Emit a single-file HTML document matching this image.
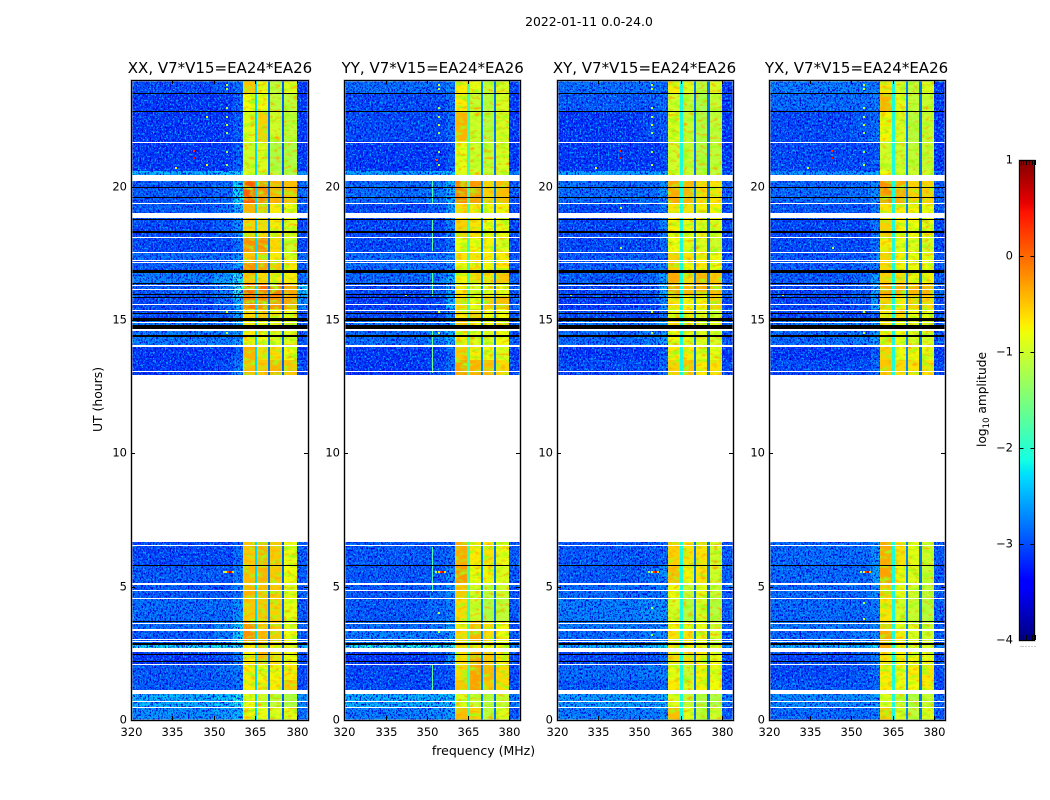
<!DOCTYPE html>
<html lang="en">
<head>
<meta charset="utf-8">
<title>2022-01-11 0.0-24.0</title>
<style>
  html, body { margin: 0; padding: 0; background: #fff; }
  svg { display: block; font-family: "DejaVu Sans", "Liberation Sans", sans-serif; fill: #000; }
</style>
</head>
<body>
<svg id="figure" xmlns="http://www.w3.org/2000/svg" width="1050" height="800" viewBox="0 0 1050 800">
  <defs id="filters"></defs>
  <text x="589" y="26" font-size="12.4" text-anchor="middle">2022-01-11 0.0-24.0</text>
  <text x="483.5" y="755" font-size="12.5" text-anchor="middle">frequency (MHz)</text>
  <text transform="translate(102 399.5) rotate(-90)" font-size="12.4" text-anchor="middle">UT (hours)</text>
  <text transform="translate(986 399.5) rotate(-90)" font-size="12.2" text-anchor="middle">log<tspan font-size="8.5" dy="3">10</tspan><tspan dy="-3"> amplitude</tspan></text>
  <g id="panels"></g>
  <g id="colorbar"></g>
</svg>
<script>
// ---- chart data ----
const panelTitles = ['XX, V7*V15=EA24*EA26', 'YY, V7*V15=EA24*EA26', 'XY, V7*V15=EA24*EA26', 'YX, V7*V15=EA24*EA26'];
const xTicks = [320, 335, 350, 365, 380];
const yTicks = [0, 5, 10, 15, 20];
const colorTicks = [1, 0, -1, -2, -3, -4];

// frequency bands (MHz) forming the columns of each matrix
const freqBands = [[320, 350], [350, 357], [357, 360.4], [360.4, 364.7], [365.6, 369.7], [370.4, 374.6], [375.4, 379.9], [379.9, 384]];
const freqGaps = [[364.7, 365.6], [369.7, 370.4], [374.6, 375.4]];
const gapLevels = [
  [-2.3, -2.8, -2.9],
  [-1.9, -2.7, -2.8],
  [-2.1, -2.8, -2.8],
  [-2.1, -2.7, -2.8]
];
// UT row boundaries (hours)
const rowEdges = [0, 0.5, 0.975, 1.5, 2.1, 2.55, 2.9, 3.4, 3.7, 4.6, 5.1, 5.8, 6.66, 12.95, 13.5, 14, 14.6, 15, 15.4, 15.9, 16.4, 16.8, 17.2, 17.5, 18.1, 18.8, 19.4, 20.2, 20.6, 21.7, 22.8, 23.5, 24];

// log10 amplitude per row (bottom to top) and band; null = no data
const ampXX = [
  [-2.6,-2.5,-2.4,-0.75,-0.85,-0.9,-0.85,-2.8],
  [-2.4,-2.3,-2.1,-0.85,-1.0,-1.1,-1.2,-2.6],
  [-2.9,-2.9,-2.8,-0.7,-0.7,-0.7,-0.5,-3.0],
  [-2.9,-2.8,-2.7,-0.7,-0.8,-0.75,-0.7,-3.0],
  [-3.1,-3.0,-2.7,-0.7,-0.4,-0.6,-0.8,-3.0],
  [-2.2,-2.1,-2.0,-0.7,-0.5,-0.7,-0.9,-2.4],
  [-2.9,-2.7,-2.2,-0.2,-0.4,-0.5,-0.8,-2.9],
  [-2.8,-2.6,-2.2,-0.2,-0.5,-0.5,-0.9,-2.8],
  [-2.8,-2.8,-2.6,-0.5,-0.5,-0.55,-0.85,-2.9],
  [-2.9,-2.9,-2.7,-0.4,-0.45,-0.5,-0.85,-2.9],
  [-2.9,-2.9,-2.7,-0.45,-0.4,-0.5,-0.8,-2.9],
  [-3.0,-3.0,-2.8,-0.5,-0.4,-0.5,-0.85,-2.9],
  null,
  [-3.1,-3.0,-2.7,-0.45,-0.5,-0.4,-0.5,-3.0],
  [-3.1,-3.1,-2.9,-0.4,-0.6,-0.6,-0.8,-3.1],
  [-2.7,-2.7,-2.5,-0.7,-0.8,-0.9,-0.9,-2.9],
  [-2.7,-2.7,-2.5,-0.7,-0.8,-0.9,-0.9,-2.9],
  [-3.0,-2.9,-2.5,-0.6,-0.5,-0.7,-0.8,-2.9],
  [-3.0,-2.8,-2.4,-0.1,-0.15,-0.2,-0.3,-2.6],
  [-2.9,-2.7,-2.0,0.0,-0.05,-0.1,-0.3,-2.3],
  [-2.7,-2.5,-2.1,-0.5,-0.6,-0.7,-0.7,-2.8],
  [-2.9,-2.8,-2.5,-0.2,-0.3,-0.5,-0.7,-2.9],
  [-2.8,-2.8,-2.6,-0.5,-0.5,-0.7,-0.9,-2.8],
  [-3.0,-3.0,-2.8,-0.2,-0.2,-0.6,-1.0,-3.0],
  [-3.0,-2.9,-2.6,-0.55,-0.6,-0.7,-0.9,-3.0],
  [-2.9,-2.8,-2.4,-0.4,-0.5,-0.7,-0.8,-2.9],
  [-2.9,-2.8,-2.2,0.05,-0.2,-0.4,-0.45,-2.8],
  [-2.4,-2.3,-2.2,-0.9,-1.0,-1.1,-1.2,-2.6],
  [-3.1,-3.1,-2.9,-1.0,-0.9,-1.2,-1.2,-3.1],
  [-3.1,-3.1,-2.9,-0.9,-0.55,-1.0,-1.1,-3.1],
  [-3.1,-3.1,-2.9,-0.8,-0.8,-1.1,-1.1,-3.1],
  [-3.0,-2.9,-2.8,-0.5,-0.8,-1.1,-0.9,-3.1]
];
const ampYY = [
  [-2.7,-2.6,-2.5,-0.45,-0.55,-1.1,-0.9,-2.9],
  [-2.4,-2.4,-2.3,-0.9,-1.05,-1.15,-1.05,-2.7],
  [-3.0,-3.0,-2.9,-0.5,-0.3,-0.5,-0.6,-3.0],
  [-3.0,-3.0,-2.9,-0.6,-0.3,-0.4,-0.6,-3.0],
  [-3.1,-3.0,-2.6,-0.6,-0.3,-0.5,-0.7,-3.0],
  [-2.1,-2.1,-2.0,-0.6,-0.7,-0.8,-0.8,-2.5],
  [-2.7,-2.7,-2.5,-0.6,-0.4,-0.6,-0.8,-2.9],
  [-2.8,-2.7,-2.5,-0.7,-0.5,-0.6,-0.8,-2.9],
  [-2.9,-2.8,-2.7,-0.6,-1.0,-1.2,-1.1,-2.9],
  [-2.9,-2.8,-2.6,-0.5,-0.95,-1.1,-1.0,-2.9],
  [-2.9,-2.9,-2.6,-0.25,-0.8,-0.75,-0.9,-2.9],
  [-2.9,-2.9,-2.8,-0.35,-0.7,-0.65,-0.85,-2.9],
  null,
  [-3.1,-3.0,-2.8,-0.3,-0.4,-0.45,-0.6,-3.0],
  [-3.1,-3.1,-2.8,-0.5,-0.7,-0.8,-0.9,-3.1],
  [-2.8,-2.7,-2.4,-0.7,-0.9,-0.9,-0.8,-2.9],
  [-2.7,-2.7,-2.5,-0.5,-0.75,-0.8,-0.8,-2.9],
  [-3.0,-3.0,-2.7,-0.7,-0.55,-0.8,-0.8,-3.0],
  [-3.1,-3.0,-2.4,-0.6,-0.85,-0.5,-0.45,-2.8],
  [-3.0,-2.9,-2.5,-0.7,-0.95,-0.9,-0.85,-2.9],
  [-2.8,-2.7,-2.4,-0.75,-0.6,-0.65,-0.5,-2.8],
  [-2.8,-2.8,-2.6,-0.75,-0.7,-0.75,-0.7,-2.9],
  [-2.8,-2.8,-2.6,-0.65,-0.65,-0.7,-0.7,-2.9],
  [-3.0,-3.0,-2.8,-0.8,-0.8,-0.75,-0.9,-3.0],
  [-3.0,-3.0,-2.7,-0.55,-0.65,-0.8,-0.85,-3.0],
  [-3.0,-2.9,-2.5,-0.6,-0.7,-0.75,-0.75,-3.0],
  [-2.8,-2.7,-2.4,-0.15,-0.25,-0.55,-0.45,-2.9],
  [-2.5,-2.4,-2.3,-0.9,-0.95,-1.05,-1.0,-2.7],
  [-3.1,-3.1,-2.9,-0.85,-1.0,-1.05,-0.95,-3.1],
  [-3.0,-3.0,-2.8,-0.4,-1.0,-1.15,-0.95,-3.1],
  [-3.0,-3.0,-2.8,-0.7,-1.05,-1.15,-0.95,-3.1],
  [-2.8,-2.8,-2.7,-0.7,-0.85,-1.05,-0.95,-3.0]
];
const ampXY = [
  [-2.7,-2.7,-2.6,-0.45,-0.85,-1.1,-1.0,-2.9],
  [-2.5,-2.5,-2.4,-0.9,-1.05,-1.2,-1.2,-2.7],
  [-2.9,-2.9,-2.8,-0.7,-0.9,-0.75,-0.8,-3.0],
  [-2.8,-2.7,-2.7,-0.85,-1.05,-0.75,-0.85,-3.0],
  [-3.0,-3.0,-2.8,-0.6,-0.6,-0.7,-0.8,-3.0],
  [-2.4,-2.3,-2.2,-0.65,-0.7,-0.85,-0.9,-2.6],
  [-2.8,-2.7,-2.6,-0.65,-0.65,-0.85,-0.95,-2.9],
  [-2.7,-2.7,-2.6,-0.75,-0.85,-0.85,-1.0,-2.9],
  [-2.7,-2.6,-2.6,-0.95,-1.15,-0.95,-1.15,-2.9],
  [-2.8,-2.8,-2.7,-0.8,-1.05,-0.85,-1.05,-2.9],
  [-2.9,-2.8,-2.6,-0.45,-0.75,-0.65,-1.0,-2.9],
  [-2.9,-2.9,-2.8,-0.55,-0.65,-0.65,-1.0,-2.9],
  null,
  [-3.0,-3.0,-2.8,-0.55,-0.5,-0.7,-0.65,-3.0],
  [-3.1,-3.1,-2.9,-0.7,-0.7,-0.85,-0.85,-3.1],
  [-2.8,-2.7,-2.5,-0.8,-0.85,-0.9,-0.95,-2.9],
  [-2.7,-2.7,-2.5,-0.6,-0.8,-0.9,-0.9,-2.9],
  [-3.0,-3.0,-2.8,-0.8,-0.65,-0.9,-0.95,-3.0],
  [-3.1,-3.0,-2.6,-0.65,-0.75,-0.75,-0.55,-3.0],
  [-3.0,-2.9,-2.4,-0.3,-0.45,-0.4,-0.45,-2.8],
  [-2.9,-2.8,-2.5,-0.35,-0.6,-0.4,-0.5,-2.9],
  [-2.9,-2.8,-2.7,-0.55,-0.75,-0.7,-0.8,-2.9],
  [-2.9,-2.9,-2.8,-0.55,-0.65,-0.7,-0.8,-2.9],
  [-3.0,-3.0,-2.8,-0.8,-0.85,-0.9,-1.0,-3.0],
  [-3.0,-3.0,-2.7,-0.75,-0.85,-0.9,-0.9,-3.0],
  [-3.0,-2.9,-2.7,-0.65,-0.65,-0.75,-0.75,-3.0],
  [-2.8,-2.8,-2.6,-0.35,-0.4,-0.6,-0.65,-2.9],
  [-2.5,-2.5,-2.4,-0.85,-1.0,-1.1,-1.1,-2.8],
  [-3.1,-3.1,-3.0,-1.0,-1.05,-1.2,-1.1,-3.1],
  [-3.1,-3.0,-2.9,-0.9,-1.05,-1.2,-1.1,-3.1],
  [-2.9,-2.9,-2.8,-1.0,-1.1,-1.25,-1.05,-3.1],
  [-2.8,-2.8,-2.8,-0.7,-0.9,-1.15,-0.95,-3.1]
];
const ampYX = [
  [-2.8,-2.8,-2.7,-0.55,-0.9,-1.1,-0.9,-2.9],
  [-2.6,-2.6,-2.5,-0.9,-1.05,-1.2,-1.05,-2.8],
  [-2.9,-2.9,-2.8,-0.7,-0.8,-0.8,-0.7,-3.0],
  [-3.0,-2.9,-2.8,-0.7,-0.85,-0.7,-0.65,-3.0],
  [-3.0,-2.9,-2.7,-0.65,-0.75,-0.75,-0.85,-3.0],
  [-2.4,-2.4,-2.2,-0.35,-0.75,-0.9,-0.95,-2.6],
  [-2.8,-2.7,-2.6,-0.35,-0.7,-0.9,-1.0,-2.9],
  [-2.7,-2.7,-2.6,-0.5,-0.85,-0.9,-1.05,-2.9],
  [-2.8,-2.8,-2.7,-0.65,-0.95,-1.05,-1.15,-2.9],
  [-2.8,-2.8,-2.6,-0.5,-0.85,-1.0,-1.1,-2.9],
  [-2.8,-2.8,-2.5,-0.3,-0.75,-0.9,-1.05,-2.9],
  [-2.8,-2.8,-2.6,-0.35,-0.65,-0.85,-1.0,-2.9],
  null,
  [-3.0,-3.0,-2.8,-0.5,-0.6,-0.65,-0.65,-3.0],
  [-3.1,-3.1,-2.9,-0.55,-0.8,-0.75,-0.85,-3.1],
  [-2.8,-2.7,-2.5,-0.7,-0.8,-0.95,-0.95,-2.9],
  [-2.7,-2.7,-2.5,-0.65,-0.8,-0.9,-0.9,-2.9],
  [-3.0,-3.0,-2.8,-0.65,-0.6,-0.8,-0.85,-3.0],
  [-3.0,-2.9,-2.5,-0.55,-0.7,-0.55,-0.6,-2.9],
  [-3.0,-2.9,-2.5,-0.3,-0.35,-0.4,-0.4,-2.8],
  [-2.9,-2.8,-2.5,-0.55,-0.6,-0.75,-0.75,-2.9],
  [-2.9,-2.8,-2.7,-0.6,-0.75,-0.8,-0.85,-2.9],
  [-2.9,-2.9,-2.7,-0.55,-0.7,-0.8,-0.85,-2.9],
  [-3.0,-3.0,-2.8,-0.7,-0.85,-0.9,-0.95,-3.0],
  [-3.0,-3.0,-2.7,-0.55,-0.75,-0.8,-0.85,-3.0],
  [-2.9,-2.9,-2.7,-0.65,-0.7,-0.75,-0.8,-2.9],
  [-2.8,-2.8,-2.6,-0.2,-0.35,-0.55,-0.55,-2.9],
  [-2.6,-2.5,-2.4,-0.8,-0.95,-1.0,-1.0,-2.8],
  [-3.0,-3.0,-2.9,-1.0,-1.0,-1.1,-1.05,-3.1],
  [-3.0,-2.9,-2.8,-0.75,-0.9,-1.15,-1.05,-3.1],
  [-2.8,-2.8,-2.7,-0.4,-0.85,-1.1,-1.05,-3.1],
  [-2.7,-2.7,-2.7,-0.65,-0.95,-1.1,-0.9,-3.1]
];
const panelAmps = [ampXX, ampYY, ampXY, ampYX];

// UT spans with no data (white) and zero amplitude (black)
const maskedSpans = [[0.46,0.5],[0.68,0.72],[0.975,1.125],[2.06,2.1],[2.55,2.7],[2.92,2.96],[3.01,3.05],[3.33,3.41],[3.62,3.65],[4.54,4.58],[4.85,4.89],[5.08,5.12],[6.54,6.58],[6.66,12.95],[13.06,13.1],[13.97,14.01],[14.03,14.07],[14.6,14.66],[14.9,14.94],[15.34,15.38],[15.57,15.61],[16.13,16.17],[16.29,16.33],[17.12,17.16],[17.22,17.26],[17.52,17.56],[18.08,18.12],[18.83,19.02],[19.35,19.39],[20.2,20.44],[21.64,21.68]];
const zeroSpans = [[2.17,2.21],[2.44,2.48],[2.83,2.87],[3.66,3.7],[5.76,5.8],[14.38,14.42],[14.66,14.82],[14.98,15.06],[15.23,15.27],[15.83,15.87],[15.92,15.96],[16.35,16.39],[16.78,16.86],[18.28,18.35],[18.75,18.79],[19.58,19.62],[19.96,20],[22.81,22.85],[23.48,23.52]];

// isolated interference samples: frequency, hour, log10 amplitude
const rfiCommon = [[353.2,5.54,-1.2],[354,5.54,-0.7],[354.8,5.54,0.3],[355.6,5.54,0.6],[356.4,5.54,-0.6],[354.2,23.8,-1.0],[354.2,23.68,-1.1],[354.2,22.95,-1.2],[354.2,22.6,-1.1],[354.2,22.3,-1.0],[354.2,22,-1.3],[354.2,21.3,-1.3],[354.2,20.8,-1.1],[354.2,15.3,-1.0],[354.2,14.5,-1.1]];
const rfiXX = [[342.4,21.35,0.3],[342.4,21.08,0.5],[336,20.7,-0.7],[347,22.6,-0.9],[347,20.8,-0.8]];
const rfiYY = [[354.2,4,-1.2],[354.2,3.3,-1.2],[353.4,21,0.2],[342,15.95,-1.2]];
const rfiXY = [[342.4,21.35,0.3],[342.4,21.08,0.5],[334,20.7,-1.0],[343,19.2,-1.1],[343,17.7,-1.1],[325,15.95,-1.2],[354.2,4.2,-1.3],[354.2,3.2,-1.2]];
const rfiYX = [[342.4,21.35,0.3],[342.4,21.08,0.5],[334,20.7,-1.0],[343,17.7,-1.2],[325,15.95,-1.2],[354.2,4.4,-1.2],[354.2,3.8,-1.1]];
const panelRfi = [rfiXX, rfiYY, rfiXY, rfiYX];

// narrowband interference column in the YY panel: frequency, start hour, end hour, level
const rfiColumnsYY = [[352,0.98,2.1,-1.7],[352,4.8,6.5,-1.8],[352,13,14.6,-1.6],[352,15.9,16.8,-1.7],[352,17.6,18.8,-1.7],[352,19.4,20.2,-1.8]];

// ---- layout constants ----
const panelLeft = [131, 344.4, 556.7, 768.7];
const panelWidth = [177, 175.6, 176.6, 176.6];
const titleNudge = [0.5, 0.5, -0.5, -0.5];
const plotTop = 80;
const plotBottom = 720;
const xMin = 320;
const xMax = 384;
const yMax = 24;
const cbLeft = 1019.5;
const cbRight = 1034.5;
const cbTop = 160;
const cbBottom = 640;
const cbMin = -4;
const cbMax = 1;
const SVG_NS = 'http://www.w3.org/2000/svg';

// ---- texture filters (visual grain only, not data) ----
const filterHost = document.getElementById('filters');
[3, 11, 23, 37].forEach(function (seed, i) {
  filterHost.insertAdjacentHTML('beforeend',
    '<filter id="grain-' + i + '" x="0" y="0" width="100%" height="100%" color-interpolation-filters="sRGB">' +
    '<feTurbulence type="fractalNoise" baseFrequency="0.6 0.48" numOctaves="2" seed="' + seed + '" result="a"/>' +
    '<feColorMatrix in="a" type="matrix" values="0 0 0 0 0.03  0 0 0 0 0.66  0 0 0 0 1  0 0 0 5.5 -2.95" result="light"/>' +
    '<feTurbulence type="fractalNoise" baseFrequency="0.6 0.48" numOctaves="2" seed="' + (seed + 50) + '" result="b"/>' +
    '<feColorMatrix in="b" type="matrix" values="0 0 0 0 0  0 0 0 0 0.02  0 0 0 0 0.85  0 0 0 5 -2.3" result="dark"/>' +
    '<feMerge><feMergeNode in="dark"/><feMergeNode in="light"/></feMerge></filter>' +
    '<filter id="sheen-' + i + '" x="0" y="0" width="100%" height="100%" color-interpolation-filters="sRGB">' +
    '<feTurbulence type="fractalNoise" baseFrequency="0.1 0.22" numOctaves="3" seed="' + (seed + 90) + '" result="a"/>' +
    '<feColorMatrix in="a" type="matrix" values="0 0 0 0 0.62  0 0 0 0 1  0 0 0 0 0.1  0 0 0 3 -1.35" result="green"/>' +
    '<feTurbulence type="fractalNoise" baseFrequency="0.16 0.3" numOctaves="2" seed="' + (seed + 120) + '" result="b"/>' +
    '<feColorMatrix in="b" type="matrix" values="0 0 0 0 1  0 0 0 0 0.66  0 0 0 0 0  0 0 0 3 -1.6" result="amber"/>' +
    '<feMerge><feMergeNode in="green"/><feMergeNode in="amber"/></feMerge></filter>');
});

// ---- scales ----
function xScale(i, mhz) { return panelLeft[i] + (mhz - xMin) / (xMax - xMin) * panelWidth[i]; }
function yScale(hour) { return plotBottom - hour / yMax * (plotBottom - plotTop); }
function cbScale(v) { return cbBottom - (v - cbMin) / (cbMax - cbMin) * (cbBottom - cbTop); }

function ramp(t, points) {
  if (t <= points[0][0]) return points[0][1];
  for (let k = 1; k < points.length; k++) {
    if (t <= points[k][0]) {
      const a = points[k - 1], b = points[k];
      return a[1] + (t - a[0]) / (b[0] - a[0]) * (b[1] - a[1]);
    }
  }
  return points[points.length - 1][1];
}
function jet(v) {
  const t = Math.min(1, Math.max(0, (v - cbMin) / (cbMax - cbMin)));
  const r = ramp(t, [[0.35, 0], [0.66, 1], [0.89, 1], [1, 0.5]]);
  const g = ramp(t, [[0.125, 0], [0.375, 1], [0.64, 1], [0.91, 0]]);
  const b = ramp(t, [[0, 0.5], [0.11, 1], [0.34, 1], [0.65, 0]]);
  return 'rgb(' + Math.round(r * 255) + ',' + Math.round(g * 255) + ',' + Math.round(b * 255) + ')';
}

function make(tag, parent, attrs) {
  const el = document.createElementNS(SVG_NS, tag);
  for (const key in attrs) el.setAttribute(key, attrs[key]);
  parent.appendChild(el);
  return el;
}
function box(parent, x0, x1, y0, y1, fill) {
  const left = Math.round(x0), right = Math.round(x1);
  const top = Math.round(y0), bottom = Math.round(y1);
  return make('rect', parent, {
    x: left, y: top,
    width: Math.max(1, right - left),
    height: Math.max(1, bottom - top),
    fill: fill,
    'shape-rendering': 'crispEdges'
  });
}

// ---- panels ----
const panelsRoot = document.getElementById('panels');
panelTitles.forEach(function (title, i) {
  const L = panelLeft[i], R = L + panelWidth[i];
  const pixL = Math.round(L), pixR = Math.round(R);
  const pol = title.slice(0, 2).toLowerCase();
  const g = make('g', panelsRoot, {});
  
  

  const titleEl = make('text', g, { x: L + panelWidth[i] / 2 + titleNudge[i], y: 73, 'font-size': 15, 'text-anchor': 'middle' });
  titleEl.textContent = title;
  
  

  // heatmap cells
  const amps = panelAmps[i];
  const heat = make('g', g, {});
  
  
  amps.forEach(function (row, r) {
    if (!row) return;
    const y0 = yScale(rowEdges[r + 1]), y1 = yScale(rowEdges[r]);
    row.forEach(function (v, c) {
      const cell = box(heat, xScale(i, freqBands[c][0]), xScale(i, freqBands[c][1]), y0, y1, jet(v));
      
      
    });
    freqGaps.forEach(function (gap, c) {
      const cell = box(heat, xScale(i, gap[0]), xScale(i, gap[1]), y0, y1, jet(gapLevels[i][c]));
      
      
    });
  });

  // receiver noise texture over the out-of-band columns
  [[freqBands[0][0], freqBands[2][1]], [freqBands[7][0], freqBands[7][1]]].forEach(function (span) {
    const x0 = Math.round(xScale(i, span[0])), x1 = Math.round(xScale(i, span[1]));
    const noise = make('rect', g, { x: x0, y: plotTop, width: x1 - x0, height: plotBottom - plotTop, filter: 'url(#grain-' + i + ')' });
    
    
  });
  // in-band mottling
  [3, 4, 5, 6].forEach(function (c) {
    const x0 = Math.round(xScale(i, freqBands[c][0])), x1 = Math.round(xScale(i, freqBands[c][1]));
    const sheen = make('rect', g, { x: x0, y: plotTop, width: x1 - x0, height: plotBottom - plotTop, filter: 'url(#sheen-' + i + ')' });
    
    
  });

  // interference samples
  if (i === 1) {
    rfiColumnsYY.forEach(function (s) {
      const col = box(g, xScale(i, s[0]), xScale(i, s[0]) + 1, yScale(s[2]), yScale(s[1]), jet(s[3]));
      
      
    });
  }
  rfiCommon.concat(panelRfi[i]).forEach(function (s) {
    const x = xScale(i, s[0]), y = yScale(s[1]);
    const dot = box(g, x, x + 2, y - 1, y + 1, jet(s[2]));
    
    
  });

  // masked and zero rows
  maskedSpans.forEach(function (s) {
    const band = box(g, L, R, yScale(s[1]), yScale(s[0]), '#fff');
    
    
  });
  zeroSpans.forEach(function (s) {
    const band = box(g, L, R, yScale(s[1]), yScale(s[0]), '#000');
    
    
  });

  // frame
  const halo = make('rect', g, { x: pixL + 0.5, y: plotTop + 0.5, width: pixR - pixL, height: plotBottom - plotTop, fill: 'none', stroke: '#999', 'stroke-width': 2 });
  
  
  const frame = make('rect', g, { x: pixL + 0.5, y: plotTop + 0.5, width: pixR - pixL, height: plotBottom - plotTop, fill: 'none', stroke: '#000', 'stroke-width': 1, 'shape-rendering': 'crispEdges' });
  
  

  // x ticks and labels
  xTicks.forEach(function (tick) {
    const x = Math.round(xScale(i, tick)) + 0.5;
    const low = make('line', g, { x1: x, x2: x, y1: plotBottom, y2: plotBottom - 4, stroke: '#000', 'shape-rendering': 'crispEdges' });
    
    
    const high = make('line', g, { x1: x, x2: x, y1: plotTop, y2: plotTop + 4, stroke: '#000', 'shape-rendering': 'crispEdges' });
    
    
    const label = make('text', g, { x: x, y: 736, 'font-size': 11.5, 'text-anchor': 'middle' });
    label.textContent = tick;
    
    
  });

  // y ticks and labels
  yTicks.forEach(function (tick) {
    const y = Math.round(yScale(tick)) + 0.5;
    const low = make('line', g, { x1: pixL, x2: pixL + 4, y1: y, y2: y, stroke: '#000', 'shape-rendering': 'crispEdges' });
    
    
    const high = make('line', g, { x1: pixR, x2: pixR - 4, y1: y, y2: y, stroke: '#000', 'shape-rendering': 'crispEdges' });
    
    
    const label = make('text', g, { x: pixL - 4, y: y + 3, 'font-size': 11.5, 'text-anchor': 'end' });
    label.textContent = tick;
    
    
  });
});

// ---- colorbar ----
const cb = document.getElementById('colorbar');
const cbHalo = make('rect', cb, { x: cbLeft, y: cbTop + 0.5, width: cbRight - cbLeft, height: cbBottom - cbTop, fill: 'none', stroke: '#aaa', 'stroke-width': 2 });


for (let py = cbTop; py < cbBottom; py++) {
  const level = cbMin + (cbBottom - py - 0.5) / (cbBottom - cbTop) * (cbMax - cbMin);
  const strip = box(cb, cbLeft, cbRight, py, py + 1, jet(level));
  
  
}
const cbFrame = make('rect', cb, { x: cbLeft, y: cbTop + 0.5, width: cbRight - cbLeft, height: cbBottom - cbTop, fill: 'none', stroke: '#000', 'shape-rendering': 'crispEdges' });


colorTicks.forEach(function (tick) {
  const y = Math.round(cbScale(tick)) + 0.5;
  [[cbLeft, cbLeft + 4], [cbRight, cbRight - 4]].forEach(function (seg) {
    const line = make('line', cb, { x1: seg[0], x2: seg[1], y1: y, y2: y, stroke: '#000', 'shape-rendering': 'crispEdges' });
    
    
  });
  const label = make('text', cb, { x: 1013, y: y + 3, 'font-size': 11.5, 'text-anchor': 'end' });
  label.textContent = tick < 0 ? '\u2212' + Math.abs(tick) : String(tick);
  
  
});
// minor marks clustered at the ends of the colorbar
for (let k = 0; k < 6; k++) {
  const x = Math.round(cbLeft + 1 + k * 2.8) + 0.5;
  const topMark = make('line', cb, { x1: x, x2: x, y1: cbTop, y2: cbTop + 5, stroke: '#000', 'shape-rendering': 'crispEdges' });
  
  
  const bottomMark = make('line', cb, { x1: x, x2: x, y1: cbBottom - 5, y2: cbBottom, stroke: '#000', 'shape-rendering': 'crispEdges' });
  
  
  const dot = make('rect', cb, { x: x - 1, y: 646, width: 1, height: 1, fill: '#999' });
  
  
}
</script>
</body>
</html>
